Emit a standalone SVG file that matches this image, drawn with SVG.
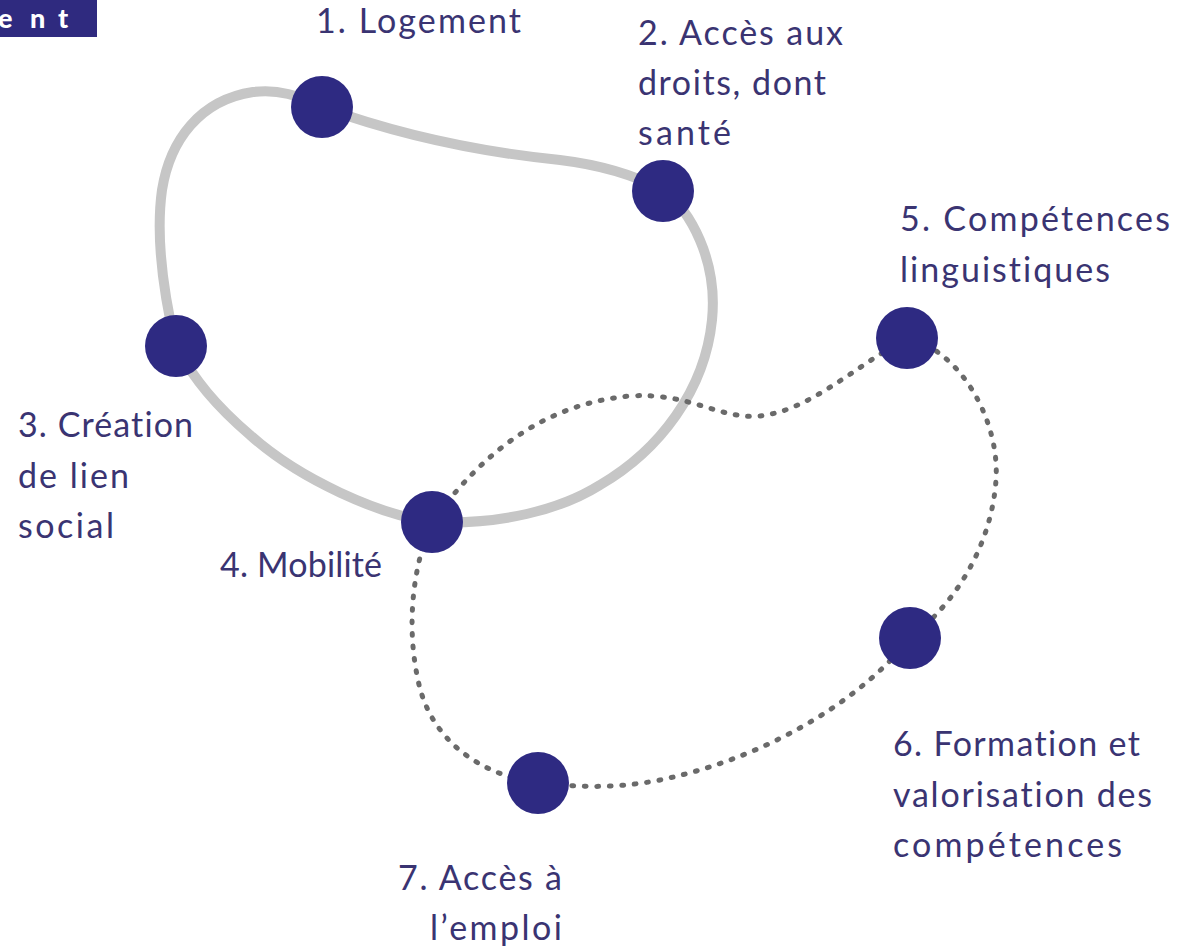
<svg xmlns="http://www.w3.org/2000/svg" width="1178" height="946" viewBox="0 0 1178 946">
  <style>
    .loop-solid { fill: none; stroke: #c6c6c6; stroke-width: 10; stroke-linejoin: round; }
    .loop-dotted { fill: none; stroke: #6a6a6a; stroke-width: 5; stroke-linecap: round; stroke-dasharray: 1.8 10.7; }
    .node { fill: #2e2a82; }
    .label { font-family: Lato, "Open Sans", "DejaVu Sans", sans-serif; font-size: 34px; fill: #3a3472; font-variant-ligatures: none; }
    .tag { font-family: Lato, "Liberation Sans", sans-serif; font-size: 27px; font-weight: 900; fill: #ffffff; }
  </style>

  <rect width="1178" height="946" fill="#ffffff"/>

  <!-- heading fragment -->
  <g id="header">
    <rect x="0" y="0" width="97" height="37" fill="#2f2a7f"/>
    <text class="tag" x="-2 30 58" y="28">ent</text>
  </g>

  <!-- connectors: solid loop (1-2-4-3) and dotted loop (4-5-6-7) -->
  <g id="connectors">
    <path class="loop-solid" d="M322,107 C380,128 460,150 560,160 C610,166 640,178 663,190 C690,210 718,260 712,320 C705,390 660,450 600,485 C560,510 500,525 432,522 C380,515 300,480 250,435 C215,405 195,380 176,347 C165,300 155,240 162,190 C170,140 200,100 253,92 C285,88 305,100 322,107 Z"/>
    <path class="loop-dotted" d="M432,522 C470,470 530,405 630,396 C690,392 720,420 760,416 C810,410 850,370 907,338 C960,350 1000,420 996,480 C992,540 960,600 910,638 C870,690 780,755 660,780 C610,790 570,786 538,783 C480,775 430,740 418,680 C405,620 415,560 432,522"/>
  </g>

  <g id="node-1">
    <circle class="node" cx="322" cy="107" r="31"/>
    <text class="label" x="316" y="33" textLength="205" lengthAdjust="spacing">1. Logement</text>
  </g>

  <g id="node-2">
    <circle class="node" cx="663" cy="191" r="31"/>
    <text class="label" x="638" y="45" textLength="205" lengthAdjust="spacing">2. Accès aux</text>
    <text class="label" x="638" y="95" textLength="188" lengthAdjust="spacing">droits, dont</text>
    <text class="label" x="638" y="145" textLength="93" lengthAdjust="spacing">santé</text>
  </g>

  <g id="node-3">
    <circle class="node" cx="176" cy="346" r="31"/>
    <text class="label" x="18" y="437" textLength="175" lengthAdjust="spacing">3. Création</text>
    <text class="label" x="18" y="488" textLength="111" lengthAdjust="spacing">de lien</text>
    <text class="label" x="18" y="538" textLength="96" lengthAdjust="spacing">social</text>
  </g>

  <g id="node-4">
    <circle class="node" cx="432" cy="522" r="31"/>
    <text class="label" x="220" y="577" textLength="162" lengthAdjust="spacing">4. Mobilité</text>
  </g>

  <g id="node-5">
    <circle class="node" cx="907" cy="338" r="31"/>
    <text class="label" x="900" y="231" textLength="270" lengthAdjust="spacing">5. Compétences</text>
    <text class="label" x="900" y="282" textLength="210" lengthAdjust="spacing">linguistiques</text>
  </g>

  <g id="node-6">
    <circle class="node" cx="910" cy="638" r="31"/>
    <text class="label" x="893" y="756" textLength="247" lengthAdjust="spacing">6. Formation et</text>
    <text class="label" x="893" y="807" textLength="259" lengthAdjust="spacing">valorisation des</text>
    <text class="label" x="893" y="857" textLength="229" lengthAdjust="spacing">compétences</text>
  </g>

  <g id="node-7">
    <circle class="node" cx="538" cy="783" r="31"/>
    <text class="label" x="398" y="890" textLength="164" lengthAdjust="spacing">7. Accès à</text>
    <text class="label" x="430" y="940" textLength="132" lengthAdjust="spacing">l’emploi</text>
  </g>
</svg>
